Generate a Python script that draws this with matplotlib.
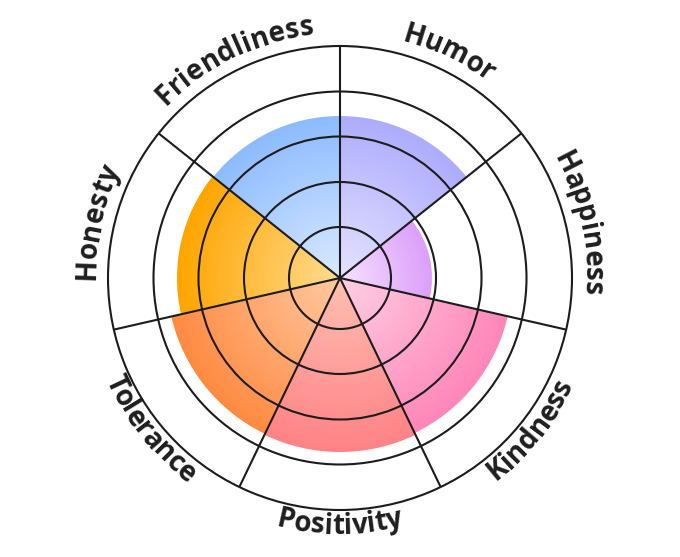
#polar area chart of personal traits, with curved labels round the rim

import numpy as np
import matplotlib
matplotlib.use("Agg")
import matplotlib.pyplot as plt
from matplotlib.colors import to_rgb
from matplotlib.font_manager import FontProperties


#traits, clockwise from 12 o'clock
traits = ["Humor", "Happiness", "Kindness", "Positivity", "Tolerance", "Honesty", "Friendliness"]
scores = [162, 92, 172, 174, 173, 163, 162]

#colour at the centre and at the outer edge of each wedge
innerColors = ["#e6e3ff", "#f6e2ff", "#ffd0e2", "#ffc0b2", "#ffcaa2", "#ffdc92", "#dbeaff"]
outerColors = ["#adacfd", "#dc9ffa", "#ff86b9", "#ff8286", "#ff8a42", "#ffa500", "#8cbbff"]

#grid rings
rings = [51, 96, 141.5, 186.5]
rMax = 232

lineColor = "#1c1c1c"
textColor = "#1e1e1e"


fig = plt.figure(figsize=(6.8, 5.57), dpi=100)
ax = fig.add_axes([108 / 680, 47 / 557, 464 / 680, 464 / 557], projection="polar")
ax.set_theta_zero_location("N")
ax.set_theta_direction(-1)

n = len(traits)
step = 2 * np.pi / n
centers = np.arange(n) * step + step / 2

#wedges: draw from the outside in so the gradient has no seams
levels = 70
for i in range(n):
    c0 = np.array(to_rgb(innerColors[i]))
    c1 = np.array(to_rgb(outerColors[i]))
    for k in range(levels, 0, -1):
        f = k / levels
        col = c0 + (c1 - c0) * f
        ax.bar(centers[i], scores[i] * f, width=step, bottom=0, color=col,
               linewidth=0, align="center")

ax.set_ylim(0, rMax)
ax.set_yticks(rings)
ax.set_yticklabels([])
ax.set_xticks(np.arange(n) * step)
ax.set_xticklabels([])
ax.set_axisbelow(False)
ax.grid(True, color=lineColor, linewidth=1.5)
ax.spines["polar"].set_color(lineColor)
ax.spines["polar"].set_linewidth(1.5)
ax.tick_params(length=0)


#curved labels, one glyph at a time
fp = FontProperties(family=["Open Sans", "DejaVu Sans"], weight="bold", size=20)
renderer = fig.canvas.get_renderer()


def textWidth(s):
    if s == "":
        return 0.0
    w, h, d = renderer.get_text_width_height_descent(s, fp, ismath=False)
    return w


def curvedLabel(label, centerDeg):
    total = textWidth(label)
    bottom = 90 < centerDeg < 270
    rb = 256 if bottom else 245
    span = np.degrees(total / rb)
    for j, ch in enumerate(label):
        s = (textWidth(label[:j]) + textWidth(label[:j + 1])) / 2
        off = np.degrees(s / rb)
        if bottom:
            a = centerDeg + span / 2 - off
            rot = 180 - a
        else:
            a = centerDeg - span / 2 + off
            rot = -a
        ax.text(np.radians(a), rb, ch, fontproperties=fp, color=textColor,
                ha="center", va="baseline", rotation=rot, rotation_mode="anchor",
                clip_on=False)


for i in range(n):
    curvedLabel(traits[i], np.degrees(centers[i]))

fig.savefig("out.png", dpi=100, facecolor="white")
